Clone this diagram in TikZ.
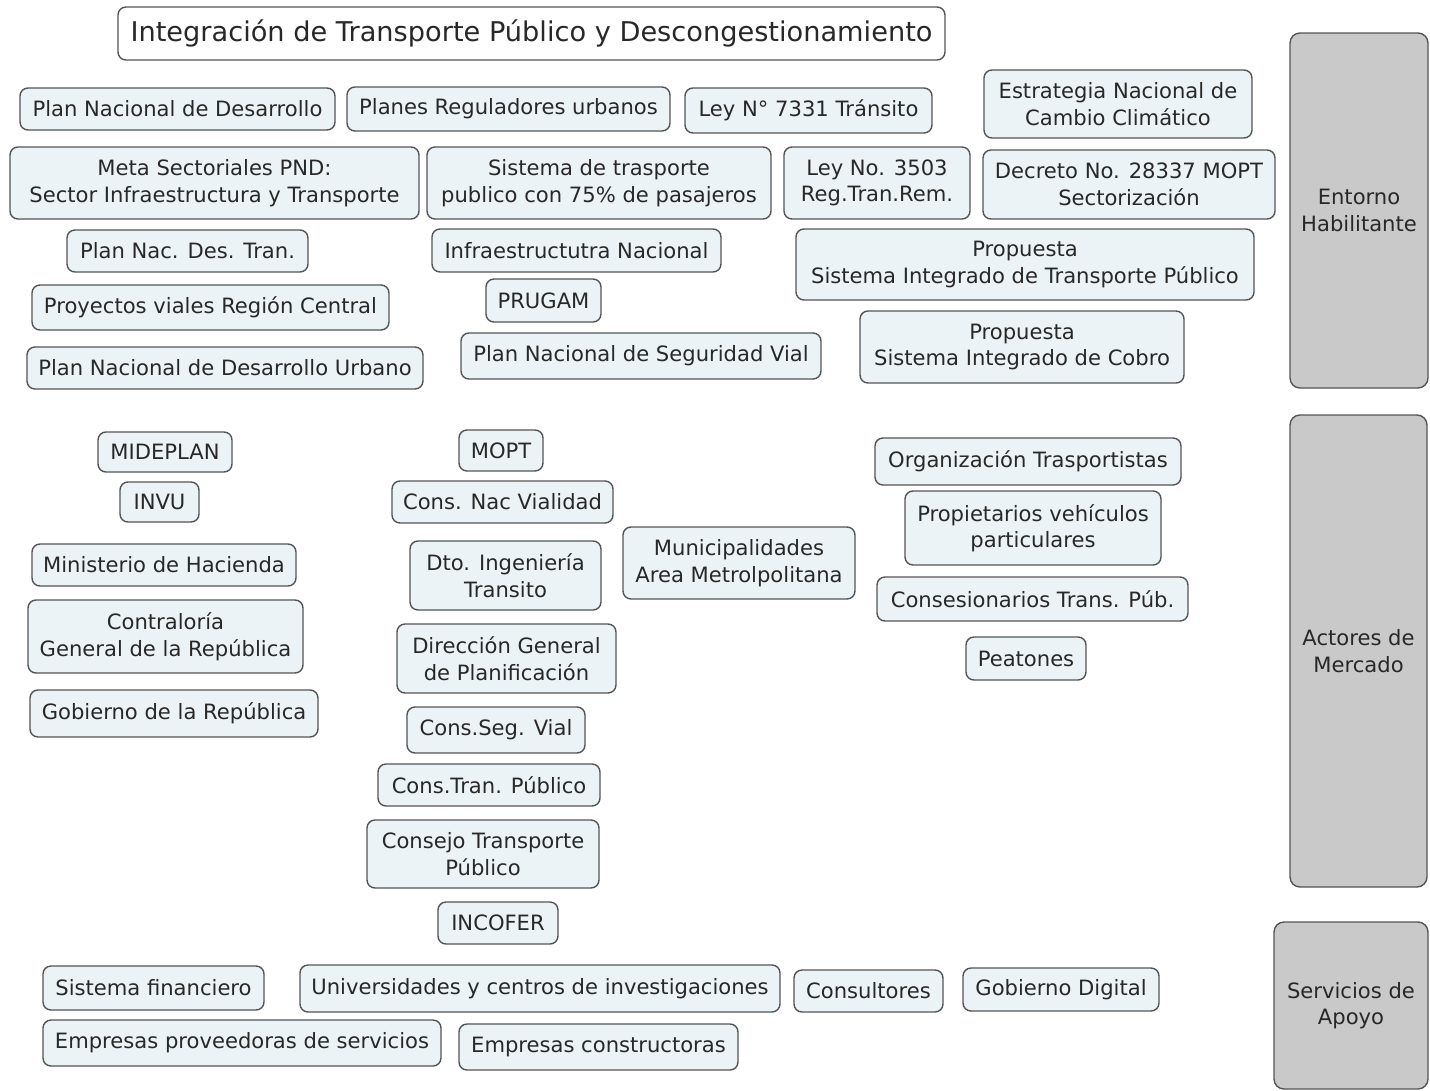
\documentclass[tikz,border=0pt]{standalone}
\usepackage{fontspec}
\setmainfont{DejaVu Sans}
\definecolor{boxfill}{RGB}{236,243,246}
\definecolor{grayfill}{RGB}{201,201,201}
\definecolor{edge}{RGB}{85,85,85}
\definecolor{ink}{RGB}{40,40,40}
\tikzset{
  box/.style={draw=edge, fill=boxfill, line width=1.4pt, rounded corners=8pt, align=center,
    text=ink, font=\fontsize{21.1}{26.5}\selectfont, inner sep=1pt},
  titlebox/.style={box, fill=white, font=\fontsize{27.2}{32}\selectfont},
  sidebox/.style={box, fill=grayfill, rounded corners=10pt}
}
\newcommand\mybox[7][box]{%
  \pgfmathsetmacro\cx{(#3+#5)/2}\pgfmathsetmacro\cy{-(#4+#6)/2}%
  \pgfmathsetmacro\ww{#5-#3}\pgfmathsetmacro\hh{#6-#4}%
  \node[#1, minimum width=\ww pt, minimum height=\hh pt] (#2) at (\cx pt,\cy pt) {#7};}
\begin{document}
\begin{tikzpicture}[x=1pt,y=1pt]
\useasboundingbox[fill=white] (0,0) rectangle (1430,-1090);
\mybox[titlebox]{title}{118}{7}{945}{60}{Integración de Transporte Público y Descongestionamiento}
% Entorno habilitante
\mybox{pnd}{20}{88}{335}{130}{Plan Nacional de Desarrollo}
\mybox{pru}{347}{87}{670}{131}{Planes Reguladores urbanos}
\mybox{ley7331}{685}{88}{932}{133}{Ley N° 7331 Tránsito}
\mybox{encc}{984}{70}{1252}{138}{Estrategia Nacional de\\Cambio Climático}
\mybox{meta}{10}{147}{419}{219}{Meta Sectoriales PND:\\Sector Infraestructura y Transporte}
\mybox{stp}{427}{147}{771}{219}{Sistema de trasporte\\publico con 75\% de pasajeros}
\mybox{ley3503}{784}{147}{970}{219}{Ley No. 3503\\Reg.Tran.Rem.}
\mybox{decreto}{983}{150}{1275}{219}{Decreto No. 28337 MOPT\\Sectorización}
\mybox{pndt}{67}{230}{308}{272}{Plan Nac. Des. Tran.}
\mybox{infra}{432}{229}{721}{272}{Infraestructutra Nacional}
\mybox{sitp}{796}{229}{1254}{300}{Propuesta\\Sistema Integrado de Transporte Público}
\mybox{proy}{32}{285}{389}{330}{Proyectos viales Región Central}
\mybox{prugam}{486}{279}{601}{322}{PRUGAM}
\mybox{pndu}{27}{347}{423}{389}{Plan Nacional de Desarrollo Urbano}
\mybox{pnsv}{461}{333}{821}{379}{Plan Nacional de Seguridad Vial}
\mybox{sic}{860}{311}{1184}{383}{Propuesta\\Sistema Integrado de Cobro}
% Side boxes
\mybox[sidebox]{entorno}{1290}{33}{1428}{388}{Entorno\\Habilitante}
\mybox[sidebox]{actores}{1290}{415}{1427}{887}{Actores de\\Mercado}
\mybox[sidebox]{servicios}{1274}{922}{1428}{1089}{Servicios de\\Apoyo}
% Actores de mercado
\mybox{mideplan}{98}{432}{232}{472}{MIDEPLAN}
\mybox{invu}{120}{482}{199}{522}{INVU}
\mybox{hacienda}{32}{544}{296}{586}{Ministerio de Hacienda}
\mybox{contra}{28}{600}{303}{673}{Contraloría\\General de la República}
\mybox{gobierno}{30}{690}{318}{737}{Gobierno de la República}
\mybox{mopt}{459}{430}{543}{471}{MOPT}
\mybox{cnv}{392}{481}{613}{523}{Cons. Nac Vialidad}
\mybox{dto}{410}{541}{601}{610}{Dto. Ingeniería\\Transito}
\mybox{muni}{623}{527}{855}{599}{Municipalidades\\Area Metrolpolitana}
\mybox{dgp}{397}{624}{616}{693}{Dirección General\\de Planificación}
\mybox{csv}{407}{707}{585}{753}{Cons.Seg. Vial}
\mybox{ctp}{378}{764}{600}{806}{Cons.Tran. Público}
\mybox{consejo}{367}{820}{599}{888}{Consejo Transporte\\Público}
\mybox{incofer}{438}{902}{558}{944}{INCOFER}
\mybox{org}{875}{438}{1181}{485}{Organización Trasportistas}
\mybox{prop}{905}{491}{1161}{565}{Propietarios vehículos\\particulares}
\mybox{conses}{877}{577}{1188}{621}{Consesionarios Trans. Púb.}
\mybox{peat}{966}{637}{1086}{680}{Peatones}
% Servicios de apoyo
\mybox{sfin}{43}{966}{264}{1010}{Sistema financiero}
\mybox{univ}{300}{965}{780}{1012}{Universidades y centros de investigaciones}
\mybox{consult}{794}{970}{943}{1012}{Consultores}
\mybox{gdig}{963}{968}{1159}{1011}{Gobierno Digital}
\mybox{emprov}{43}{1020}{441}{1066}{Empresas proveedoras de servicios}
\mybox{emcons}{459}{1024}{738}{1070}{Empresas constructoras}
\end{tikzpicture}
\end{document}
